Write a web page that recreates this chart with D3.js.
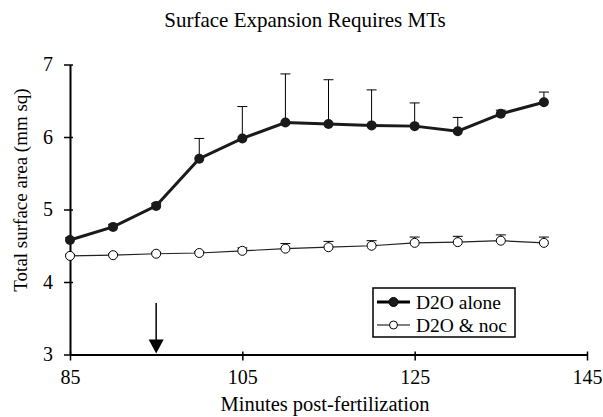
<!DOCTYPE html>
<html>
<head>
<meta charset="utf-8">
<script src="https://cdn.jsdelivr.net/npm/d3@7"></script>
<style>
  body { margin: 0; background: #fff; }
</style>
</head>
<body>
<div id="chart"></div>
<script>
// data
var minutes = [85, 90, 95, 100, 105, 110, 115, 120, 125, 130, 135, 140];
var d2oAlone = [4.58, 4.76, 5.05, 5.70, 5.98, 6.20, 6.18, 6.16, 6.15, 6.08, 6.32, 6.48];
var d2oAloneErr = [0.03, 0.03, 0.03, 0.28, 0.44, 0.67, 0.61, 0.49, 0.32, 0.19, 0.05, 0.14];
var d2oNoc = [4.36, 4.37, 4.39, 4.40, 4.43, 4.46, 4.48, 4.50, 4.54, 4.55, 4.57, 4.54];
var d2oNocErr = [0.02, 0.02, 0.02, 0.02, 0.04, 0.07, 0.08, 0.07, 0.08, 0.08, 0.08, 0.08];
var xTicks = [85, 105, 125, 145];
var yTicks = [3, 4, 5, 6, 7];
var arrowAt = 95;

function init(){

	var w = 603;
	var h = 417;
	var serif = "Liberation Serif";

	var xScale = d3.scaleLinear()
					.domain([85, 145])
					.range([70, 587]);

	var yScale = d3.scaleLinear()
					.domain([3, 7])
					.range([354.5, 64.5]);

	var svg = d3.select("#chart")
				.append("svg")
				.attr("width", w)
				.attr("height", h);

	// title
	svg.append("text")
		.attr("x", 305)
		.attr("y", 27)
		.attr("text-anchor", "middle")
		.attr("font-size", 21)
		.text("Surface Expansion Requires MTs");

	// axes
	var xAxis = d3.axisBottom(xScale)
					.tickValues(xTicks)
					.tickFormat(d3.format("d"))
					.tickSizeInner(6)
					.tickSizeOuter(0)
					.tickPadding(9);
	var gx = svg.append("g")
		.attr("transform", "translate(0," + yScale(3) + ")")
		.call(xAxis);

	var yAxis = d3.axisLeft(yScale)
					.tickValues(yTicks)
					.tickFormat(d3.format("d"))
					.tickSizeInner(6)
					.tickSizeOuter(0)
					.tickPadding(11);
	var gy = svg.append("g")
		.attr("transform", "translate(" + xScale(85) + ",0)")
		.call(yAxis);

	[gx, gy].forEach(function(g){
		g.attr("font-size", 20);
		g.select(".domain").attr("stroke", "#000").attr("stroke-width", 2);
		g.selectAll(".tick line").attr("stroke", "#000").attr("stroke-width", 1.5);
	});
	// ticks cross the axis a little
	gx.selectAll(".tick line").attr("y1", -3);
	gy.selectAll(".tick line").attr("x1", 3);

	// axis titles
	svg.append("text")
		.attr("x", 325)
		.attr("y", 411)
		.attr("text-anchor", "middle")
		.attr("font-size", 20.5)
		.text("Minutes post-fertilization");

	svg.append("text")
		.attr("transform", "translate(27," + 190 + ") rotate(-90)")
		.attr("text-anchor", "middle")
		.attr("font-size", 19)
		.text("Total surface area (mm sq)");

	// error bars (upper only)
	function errBars(vals, errs){
		var g = svg.append("g");
		vals.forEach(function(v, i){
			var x = xScale(minutes[i]);
			g.append("line")
				.attr("x1", x).attr("x2", x)
				.attr("y1", yScale(v)).attr("y2", yScale(v + errs[i]))
				.attr("stroke", "#000").attr("stroke-width", 1);
			g.append("line")
				.attr("x1", x - 5).attr("x2", x + 5)
				.attr("y1", yScale(v + errs[i])).attr("y2", yScale(v + errs[i]))
				.attr("stroke", "#000").attr("stroke-width", 1);
		});
	}
	errBars(d2oNoc, d2oNocErr);
	errBars(d2oAlone, d2oAloneErr);

	var line = d3.line()
		.x(function(d, i){ return xScale(minutes[i]); })
		.y(function(d){ return yScale(d); });

	// D2O & noc: thin line, open circles
	svg.append("path")
		.datum(d2oNoc)
		.attr("d", line)
		.attr("fill", "none")
		.attr("stroke", "#222")
		.attr("stroke-width", 1.2);
	svg.selectAll("circle.noc")
		.data(d2oNoc)
		.enter()
		.append("circle")
		.attr("class", "noc")
		.attr("cx", function(d, i){ return xScale(minutes[i]); })
		.attr("cy", function(d){ return yScale(d); })
		.attr("r", 4.5)
		.attr("fill", "#fff")
		.attr("stroke", "#000")
		.attr("stroke-width", 1);

	// D2O alone: thick line, filled circles
	svg.append("path")
		.datum(d2oAlone)
		.attr("d", line)
		.attr("fill", "none")
		.attr("stroke", "#1a1a1a")
		.attr("stroke-width", 3);
	svg.selectAll("circle.alone")
		.data(d2oAlone)
		.enter()
		.append("circle")
		.attr("class", "alone")
		.attr("cx", function(d, i){ return xScale(minutes[i]); })
		.attr("cy", function(d){ return yScale(d); })
		.attr("r", 5)
		.attr("fill", "#1a1a1a");

	// arrow at 95 min
	var ax = xScale(arrowAt);
	var base = yScale(3);
	svg.append("line")
		.attr("x1", ax).attr("x2", ax)
		.attr("y1", 303).attr("y2", base - 12)
		.attr("stroke", "#000").attr("stroke-width", 1.5);
	svg.append("path")
		.attr("d", "M" + (ax - 7.5) + "," + (base - 15) + "L" + (ax + 7.5) + "," + (base - 15) + "L" + ax + "," + (base - 1) + "Z")
		.attr("fill", "#000");

	// legend
	var lg = svg.append("g").attr("transform", "translate(373,288)");
	lg.append("rect")
		.attr("width", 142).attr("height", 49)
		.attr("fill", "#fff")
		.attr("stroke", "#000")
		.attr("stroke-width", 1.5);
	var items = [
		{label: "D2O alone", fill: "#1a1a1a", sw: 3, r: 4.5},
		{label: "D2O & noc", fill: "#fff", sw: 1.2, r: 4}
	];
	items.forEach(function(it, i){
		var cy = 14 + i * 23;
		lg.append("line")
			.attr("x1", 4).attr("x2", 37)
			.attr("y1", cy).attr("y2", cy)
			.attr("stroke", "#000").attr("stroke-width", it.sw);
		lg.append("circle")
			.attr("cx", 20.5).attr("cy", cy).attr("r", it.r)
			.attr("fill", it.fill).attr("stroke", "#000").attr("stroke-width", 1);
		lg.append("text")
			.attr("x", 43).attr("y", cy + 7)
			.attr("font-size", 19.5)
			.text(it.label);
	});

	// every label in a Times-like face
	svg.selectAll("text")
		.style("font-family", serif)
		.attr("fill", "#000");
}

window.onload = init;
</script>
</body>
</html>
